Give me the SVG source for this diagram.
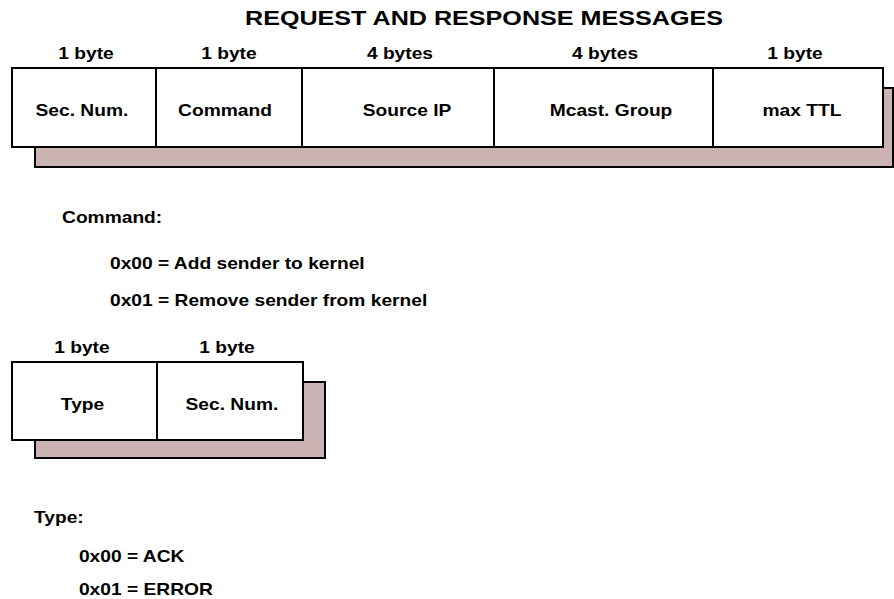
<svg xmlns="http://www.w3.org/2000/svg" width="894" height="599" viewBox="0 0 894 599">
<style>
text{font-family:"Liberation Sans",Arial,sans-serif;font-weight:bold;fill:#000}
.t{font-size:21px}
.l{font-size:16px}
.c{text-anchor:middle}
.box{fill:#fff;stroke:#000;stroke-width:2}
.sh{fill:#cbb3b3;stroke:#000;stroke-width:2}
.dv{stroke:#000;stroke-width:2}
</style>
<rect width="894" height="599" fill="#fff"/>
<g id="title">
<text class="t c" x="484" y="25" textLength="478" lengthAdjust="spacingAndGlyphs">REQUEST AND RESPONSE MESSAGES</text>
</g>
<g id="request">
<rect class="sh" x="35" y="88" width="858" height="79"/>
<rect class="box" x="12" y="68" width="871" height="79"/>
<line class="dv" x1="156" y1="68" x2="156" y2="147"/>
<line class="dv" x1="302" y1="68" x2="302" y2="147"/>
<line class="dv" x1="494" y1="68" x2="494" y2="147"/>
<line class="dv" x1="713" y1="68" x2="713" y2="147"/>
<g transform="scale(1.2,1)">
<text class="l c" x="71.7" y="59">1 byte</text>
<text class="l c" x="190.8" y="59">1 byte</text>
<text class="l c" x="333.3" y="59">4 bytes</text>
<text class="l c" x="504.2" y="59">4 bytes</text>
<text class="l c" x="662.5" y="59">1 byte</text>
<text class="l c" x="68.3" y="116">Sec. Num.</text>
<text class="l c" x="187.5" y="116">Command</text>
<text class="l c" x="339.2" y="116">Source IP</text>
<text class="l c" x="509.2" y="116">Mcast. Group</text>
<text class="l c" x="668.3" y="116">max TTL</text>
</g>
</g>
<g id="command-legend" transform="scale(1.2,1)">
<text class="l" x="51.7" y="223">Command:</text>
<text class="l" x="91.7" y="269">0x00 = Add sender to kernel</text>
<text class="l" x="91.7" y="306">0x01 = Remove sender from kernel</text>
</g>
<g id="response">
<rect class="sh" x="35" y="382" width="290" height="76"/>
<rect class="box" x="12" y="362" width="291" height="78"/>
<line class="dv" x1="157" y1="362" x2="157" y2="440"/>
<g transform="scale(1.2,1)">
<text class="l c" x="68.3" y="353">1 byte</text>
<text class="l c" x="189.2" y="353">1 byte</text>
<text class="l c" x="68.8" y="410">Type</text>
<text class="l c" x="193.3" y="410">Sec. Num.</text>
</g>
</g>
<g id="type-legend" transform="scale(1.2,1)">
<text class="l" x="28.3" y="523">Type:</text>
<text class="l" x="65.8" y="562">0x00 = ACK</text>
<text class="l" x="65.8" y="595">0x01 = ERROR</text>
</g>
<g id="connectors"/>
</svg>
